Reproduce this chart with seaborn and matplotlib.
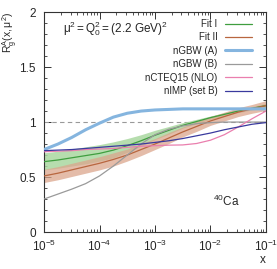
import numpy as np
import pandas as pd
import seaborn as sns
import matplotlib
matplotlib.use("Agg")
import matplotlib.pyplot as plt
from matplotlib.ticker import MultipleLocator, LogLocator, FuncFormatter

# x grid: quarter decades from 1e-5 to 1e-1
x_vals = [1e-5, 1.78e-5, 3.16e-5, 5.62e-5, 1e-4, 1.78e-4, 3.16e-4, 5.62e-4,
          1e-3, 1.78e-3, 3.16e-3, 5.62e-3, 1e-2, 1.78e-2, 3.16e-2, 5.62e-2, 1e-1]

fit1 = [0.64, 0.655, 0.675, 0.695, 0.715, 0.745, 0.785, 0.83, 0.88, 0.925, 0.97,
        1.005, 1.04, 1.07, 1.10, 1.125, 1.15]
fit1_lo = [0.565, 0.58, 0.60, 0.62, 0.645, 0.675, 0.725, 0.78, 0.84, 0.89,
           0.945, 0.985, 1.025, 1.055, 1.085, 1.11, 1.13]
fit1_hi = [0.72, 0.735, 0.755, 0.775, 0.795, 0.82, 0.85, 0.885, 0.925, 0.96,
           0.995, 1.025, 1.055, 1.085, 1.115, 1.14, 1.17]

fit2 = [0.51, 0.535, 0.565, 0.595, 0.625, 0.66, 0.70, 0.75, 0.80, 0.855, 0.91,
        0.96, 1.01, 1.05, 1.09, 1.12, 1.15]
fit2_lo = [0.45, 0.475, 0.505, 0.535, 0.565, 0.60, 0.645, 0.695, 0.75, 0.805,
           0.865, 0.915, 0.97, 1.01, 1.05, 1.08, 1.105]
fit2_hi = [0.57, 0.595, 0.625, 0.655, 0.685, 0.72, 0.755, 0.805, 0.85, 0.905,
           0.955, 1.005, 1.05, 1.09, 1.13, 1.16, 1.195]

ngbw_a = [0.75, 0.80, 0.86, 0.93, 0.99, 1.045, 1.08, 1.10, 1.11, 1.115, 1.12,
          1.12, 1.12, 1.12, 1.12, 1.12, 1.12]
ngbw_b = [0.30, 0.345, 0.39, 0.44, 0.51, 0.60, 0.70, 0.80, 0.885, 0.935, 0.965,
          0.985, 0.995, 1.0, 1.0, 1.0, 1.0]
ncteq = [0.73, 0.735, 0.74, 0.75, 0.755, 0.76, 0.77, 0.78, 0.785, 0.79, 0.792,
         0.805, 0.835, 0.885, 0.955, 1.03, 1.10]
nimp = [0.74, 0.745, 0.75, 0.76, 0.77, 0.78, 0.79, 0.80, 0.815, 0.83, 0.85,
        0.875, 0.90, 0.93, 0.955, 0.98, 0.995]

y_ticks = [0, 0.5, 1, 1.5, 2]

series = [
    ("Fit I", fit1, "#3f9e3f", 0.9),
    ("Fit II", fit2, "#b8663f", 0.9),
    ("nGBW (A)", ngbw_a, "#85b5df", 2.2),
    ("nGBW (B)", ngbw_b, "#9a9a9a", 0.9),
    ("nCTEQ15 (NLO)", ncteq, "#ea7fae", 0.9),
    ("nIMP (set B)", nimp, "#3a3a9e", 0.9),
]

sns.set_style("ticks")
plt.rcParams['font.family'] = ['Liberation Sans', 'DejaVu Sans']
plt.rcParams['mathtext.fontset'] = 'custom'
plt.rcParams['mathtext.rm'] = 'Liberation Sans'
plt.rcParams['mathtext.it'] = 'Liberation Sans:italic'

fig = plt.figure(figsize=(2.77, 2.69), dpi=100)
ax = fig.add_axes([0.159, 0.1375, 0.801, 0.8175])

ax.axhline(1.0, color="#999999", lw=0.8, ls=(0, (4, 3)), zorder=1)

ax.fill_between(x_vals, fit1_lo, fit1_hi, color="#a9d7a0", alpha=0.85, lw=0, zorder=2)
ax.fill_between(x_vals, fit2_lo, fit2_hi, color="#dba68d", alpha=0.75, lw=0, zorder=2)

for name, vals, col, lw in series:
    df = pd.DataFrame({"x": x_vals, "y": vals})
    sns.lineplot(data=df, x="x", y="y", color=col, lw=lw, label=name,
                 ax=ax, zorder=3)

ax.set_xscale("log")
ax.set_xlim(1e-5, 1e-1)
ax.set_ylim(0, 2)
ax.set_yticks(y_ticks)
ax.yaxis.set_major_formatter(FuncFormatter(lambda v, p: f"{v:g}"))
ax.yaxis.set_minor_locator(MultipleLocator(0.1))
ax.xaxis.set_minor_locator(LogLocator(base=10, subs=np.arange(2, 10), numticks=20))
ax.tick_params(which="both", direction="in", top=True, right=True, labelsize=8.5,
               color="#333333")
ax.tick_params(which="major", length=5, width=0.7)
ax.tick_params(which="minor", length=2.5, width=0.6)
ax.tick_params(axis="y", which="major", pad=6)
ax.tick_params(axis="x", which="major", pad=5)
for s in ax.spines.values():
    s.set_linewidth(0.8)
    s.set_color("#333333")

ax.set_xlabel("x", loc="right", fontsize=8.5, labelpad=0)
ax.set_ylabel(r"$\mathrm{R_g^A(x,\mu^2)}$", loc="top", fontsize=7.5)
ax.yaxis.set_label_coords(-0.11, 1.0)

ax.text(0.085, 0.905, r"$\mathrm{\mu^2 = Q_0^2 = (2.2\ GeV)^2}$", transform=ax.transAxes,
        fontsize=8.5)
ax.text(0.76, 0.12, r"$\mathrm{^{40}Ca}$", transform=ax.transAxes, fontsize=8.5)

leg = ax.legend(loc="upper right", frameon=False, markerfirst=False, fontsize=7,
                handlelength=2.8, labelspacing=0.35, borderaxespad=0.3,
                bbox_to_anchor=(0.97, 1.0))

fig.savefig("out.png", dpi=100)
